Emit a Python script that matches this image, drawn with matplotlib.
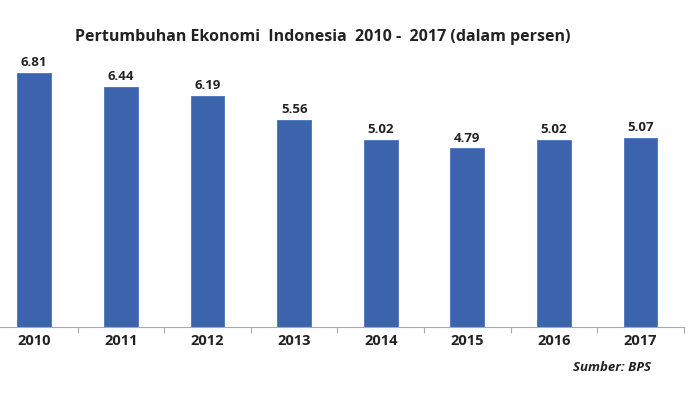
import matplotlib
matplotlib.use("Agg")
import matplotlib.pyplot as plt
import numpy as np

years = ["2010", "2011", "2012", "2013", "2014", "2015", "2016", "2017"]
growth = [6.81, 6.44, 6.19, 5.56, 5.02, 4.79, 5.02, 5.07]

plt.rcParams['font.family'] = ['Open Sans', 'DejaVu Sans']

fig = plt.figure(figsize=(7, 3.93), dpi=100)
ax = fig.add_axes([-0.013, 0.168, 0.99, 0.712])
x = np.arange(len(years))
ax.bar(x, growth, width=0.39, color="#3b64ad", edgecolor="#4a74bd", linewidth=0.6)
for xi, v in zip(x, growth):
    ax.text(xi, v + 0.1, f"{v:.2f}", ha="center", va="bottom", fontsize=9.5, fontweight="bold", color="#222222")
ax.set_xlim(-0.5, 7.5)
ax.set_ylim(0, 7.5)
ax.set_yticks([])
for s in ["top", "right", "left"]:
    ax.spines[s].set_visible(False)
ax.spines["bottom"].set_color("#aaaaaa")
ax.set_xticks(np.arange(-0.5, 8.0, 1.0), minor=False)
ax.set_xticklabels([])
ax.tick_params(axis="x", length=4, color="#aaaaaa", direction="out")
ax.set_xticks(x, minor=True)
ax.set_xticklabels(years, minor=True, fontsize=10.5, fontweight="bold", color="#222222")
ax.tick_params(axis="x", which="minor", length=0, pad=5)

fig.text(0.461, 0.905, "Pertumbuhan Ekonomi  Indonesia  2010 -  2017 (dalam persen)",
         ha="center", va="center", fontsize=11.5, fontweight="bold", color="#222222")
fig.text(0.874, 0.066, "Sumber: BPS", ha="center", va="center", fontsize=9.5,
         fontweight="bold", fontstyle="italic", color="#222222")
fig.savefig("out.png", dpi=100)
